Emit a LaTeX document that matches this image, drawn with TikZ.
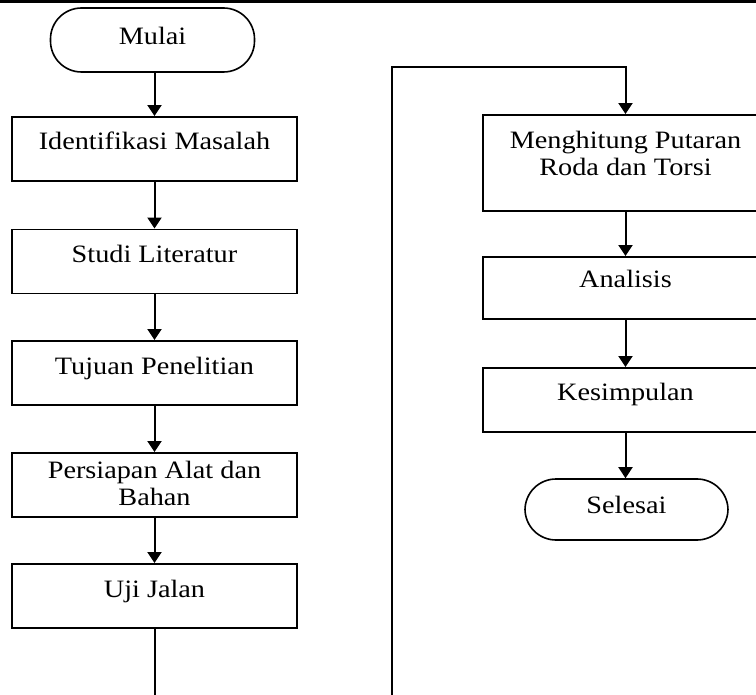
\documentclass[tikz,border=0pt]{standalone}
\usepackage{fontspec}
\setmainfont{Liberation Serif}[FakeStretch=1.13]
\usetikzlibrary{arrows.meta}

\begin{document}
\begin{tikzpicture}[x=1pt, y=-1pt,
  txt/.style={font=\fontsize{25}{27}\selectfont},
  procbox/.style={txt, rectangle, draw=black, line width=1.9pt, minimum width=285pt, inner sep=0pt, align=center},
  termv/.style={txt, rectangle, rounded corners=31pt, draw=black, line width=1.6pt, minimum width=204pt, inner sep=0pt},
  flowedge/.style={draw=black, line width=2pt, -{Triangle[width=14pt,length=11pt]}},
  plainedge/.style={draw=black, line width=2pt}
]
\useasboundingbox (0,0) rectangle (756,695);
\clip (0,0) rectangle (756,695);
\fill[black] (0,0) rectangle (756,3.3);

% left column
\node[termv, text height=37pt, text depth=27pt] (mulai) at (152.5,40) {Mulai};
\node[procbox, text height=33pt, text depth=31pt] (ident) at (154.5,149) {Identifikasi Masalah};
\node[procbox, text height=33pt, text depth=31pt] (studi) at (154.5,261.5) {Studi Literatur};
\node[procbox, text height=33pt, text depth=31pt] (tujuan) at (154.5,373) {Tujuan Penelitian};
\node[procbox, text height=52pt, text depth=12pt] (persiapan) at (154.5,485) {Persiapan Alat dan\\Bahan};
\node[procbox, text height=33pt, text depth=31pt] (uji) at (154.5,596) {Uji Jalan};

% right column
\node[procbox, text height=61pt, text depth=35pt] (hitung) at (625.5,163) {Menghitung Putaran\\Roda dan Torsi};
\node[procbox, text height=31pt, text depth=31pt] (analisis) at (625.5,288) {Analisis};
\node[procbox, text height=32pt, text depth=32pt] (simpul) at (625.5,400) {Kesimpulan};
\node[termv, text height=34pt, text depth=27pt, minimum width=203pt] (selesai) at (626.5,509.5) {Selesai};

\coordinate (outL) at (154.5,695);
\coordinate (inR) at (392,695);
\coordinate (topL) at (392,67.5);
\coordinate (topR) at (625.5,67.5);

\draw[flowedge] (mulai.south -| ident.north) -- (ident);
\draw[flowedge] (ident) -- (studi);
\draw[flowedge] (studi) -- (tujuan);
\draw[flowedge] (tujuan) -- (persiapan);
\draw[flowedge] (persiapan) -- (uji);
\draw[plainedge] (uji) -- (outL);
\draw[flowedge] (inR) -- (topL) -- (topR) -- (hitung);
\draw[flowedge] (hitung) -- (analisis);
\draw[flowedge] (analisis) -- (simpul);
\draw[flowedge] (simpul) -- (selesai.north -| simpul.south);

\end{tikzpicture}
\end{document}
